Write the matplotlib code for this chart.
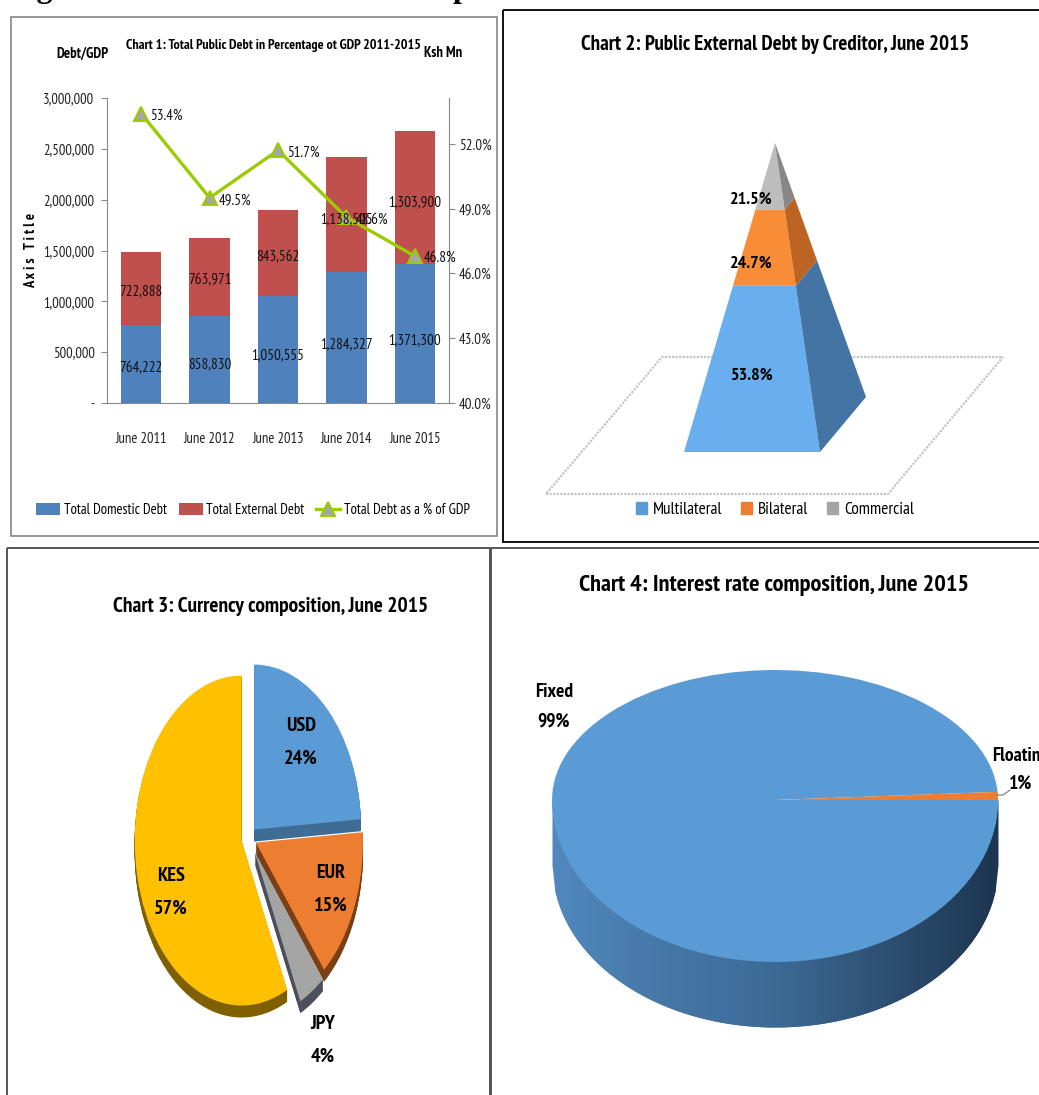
import numpy as np
import matplotlib
matplotlib.use("Agg")
import matplotlib.pyplot as plt
from matplotlib import font_manager as fm
from matplotlib.patches import Rectangle, Polygon, Patch
from matplotlib.colors import LinearSegmentedColormap
from matplotlib.ticker import FuncFormatter, FixedLocator

W, H = 1039, 1095
_have = {f.name for f in fm.fontManager.ttflist}
NARROW = [n for n in ['PT Sans Narrow', 'Fira Sans Condensed', 'Roboto Condensed', 'Lato', 'DejaVu Sans'] if n in _have]
plt.rcParams['font.family'] = NARROW

# ---- data ----
years = ['June 2011', 'June 2012', 'June 2013', 'June 2014', 'June 2015']
domestic = [764222, 858830, 1050555, 1284327, 1371300]
external = [722888, 763971, 843562, 1138505, 1303900]
debt_gdp = [53.4, 49.5, 51.7, 48.6, 46.8]
left_ticks = [0, 500000, 1000000, 1500000, 2000000, 2500000, 3000000]
right_ticks = [40, 43, 46, 49, 52]

creditors = ['Multilateral', 'Bilateral', 'Commercial']
creditor_share = [53.8, 24.7, 21.5]

currencies = ['USD', 'EUR', 'JPY', 'KES']
currency_share = [24, 15, 4, 57]
currency_explode = [0.07, 0.07, 0.10, 0.07]

rate_types = ['Fixed', 'Floating']
rate_share = [99, 1]

fig = plt.figure(figsize=(W / 100, H / 100), dpi=100, facecolor='white')


def px_axes(x0, y0, x1, y1, **kw):
    return fig.add_axes([x0 / W, 1 - y1 / H, (x1 - x0) / W, (y1 - y0) / H], **kw)


ov = fig.add_axes([0, 0, 1, 1], zorder=0)
ov.set_xlim(0, W); ov.set_ylim(H, 0); ov.axis('off')
top = fig.add_axes([0, 0, 1, 1], zorder=20)
top.set_xlim(0, W); top.set_ylim(H, 0); top.axis('off'); top.patch.set_alpha(0)


def label(x, y, s, size=13, weight='bold', ha='center', **kw):
    top.text(x, y, s, fontsize=size, fontweight=weight, ha=ha, va='center', color='black', **kw)


# ---- frames ----
ov.add_patch(Rectangle((10.5, 16.5), 486, 519, fc='none', ec='#858585', lw=1.2))
ov.add_patch(Rectangle((502.5, 9.5), 560, 532, fc='none', ec='#111111', lw=1.4))
ov.add_patch(Rectangle((6.5, 547.5), 483, 560, fc='none', ec='#555555', lw=1.4))
ov.add_patch(Rectangle((490.5, 547.5), 560, 560, fc='none', ec='#555555', lw=1.4))

# clipped page heading
top.text(8, -3, 'Figure 2: Total Public Debt Composition', family='Liberation Serif', fontsize=23,
         fontweight='bold', ha='left', va='baseline', color='black')

# ---- chart 1 ----
ax = px_axes(107, 98, 449, 403, zorder=5)
ax.patch.set_alpha(0)
x = np.arange(len(years))
blue_bars = ax.bar(x, domestic, width=0.59, color='#4F81BD', label='Total Domestic Debt')
red_bars = ax.bar(x, external, width=0.59, bottom=domestic, color='#C0504D', label='Total External Debt')
ax.set_xlim(-0.5, 4.5)
ax.set_ylim(0, 3000000)
ax.yaxis.set_major_locator(FixedLocator(left_ticks))
ax.yaxis.set_major_formatter(FuncFormatter(lambda v, p: '-' if v == 0 else f'{int(v):,}'))
ax.set_xticks(x)
ax.set_xticklabels(years)
ax.tick_params(axis='x', length=0, pad=21, labelsize=10.5, labelcolor='#222222')
ax.tick_params(axis='y', length=4, color='#888888', pad=5, labelsize=10.5, labelcolor='#222222')
for s in ['top', 'right']:
    ax.spines[s].set_visible(False)
for s in ['left', 'bottom']:
    ax.spines[s].set_color('#888888')
# value labels sit above the line, so they are drawn on the top layer in the bar axes' data scale
for xi, d, e in zip(x, domestic, external):
    top.text(xi, d * 0.45, f'{d:,}', transform=ax.transData, ha='center', va='center',
             fontsize=10.8, color='#111111')
    top.text(xi, d + e * 0.46, f'{e:,}', transform=ax.transData, ha='center', va='center',
             fontsize=10.8, color='#111111')

ax2 = ax.twinx()
ax2.patch.set_alpha(0)
ax2.set_ylim(40, 40 + 305 / 21.6)
line, = ax2.plot(x, debt_gdp, color='#9BCB00', lw=2.4, marker='^', ms=10, mfc='#A6A6A6',
                 mec='#9BCB00', mew=1.5, label='Total Debt as a % of GDP')
ax2.set_yticks(right_ticks)
ax2.yaxis.set_major_formatter(FuncFormatter(lambda v, p: f'{v:.1f}%'))
ax2.tick_params(axis='y', length=4, color='#888888', pad=3, labelsize=10.8, labelcolor='#222222')
for s in ['top', 'left', 'bottom']:
    ax2.spines[s].set_visible(False)
ax2.spines['right'].set_color('#888888')
for xi, v in zip(x, debt_gdp):
    ax2.annotate(f'{v:.1f}%', (xi, v), xytext=(6.5, -1.5), textcoords='offset points', ha='left',
                 va='center', fontsize=10.8, color='#111111')

label(31, 250, 'A x i s   T i t l e', size=10.5, rotation=90)
label(273, 45, 'Chart 1: Total Public Debt in Percentage ot GDP 2011-2015', size=10.1)
label(82, 54, 'Debt/GDP', size=10.5)
label(443, 53, 'Ksh Mn', size=10.5)

top.legend([blue_bars, red_bars, line],
           ['Total Domestic Debt', 'Total External Debt', 'Total Debt as a % of GDP'],
           loc='center', bbox_to_anchor=(253 / W, 1 - 510 / H), bbox_transform=fig.transFigure,
           ncol=3, frameon=False, fontsize=10.5, handlelength=1.65, handleheight=0.8,
           handletextpad=0.25, columnspacing=0.8)

# ---- chart 2: pyramid sized by cumulative shares ----
front_l = np.array([684.0, 452.0])
front_r = np.array([820.0, 452.0])
back_r = np.array([866.0, 397.0])
apex = np.array([775.0, 143.0])
ov.add_patch(Polygon([(546, 494), (888, 494), (1003, 357), (662, 357)], closed=True, fc='white',
                     ec='#c4c4c4', lw=1.6, ls=(0, (1, 0.6))))
front_cols = ['#69AEEE', '#F98C36', '#BDBDBD']
side_cols = ['#4374A3', '#BD6425', '#878787']
cum = np.concatenate([[0], np.cumsum(creditor_share)]) / np.sum(creditor_share)
along = lambda p, f: p + (apex - p) * f
for i in range(len(creditor_share)):
    a, b = cum[i], cum[i + 1]
    ov.add_patch(Polygon([along(front_l, a), along(front_r, a), along(front_r, b), along(front_l, b)],
                         closed=True, fc=front_cols[i], ec='none', zorder=3))
    ov.add_patch(Polygon([along(front_r, a), along(back_r, a), along(back_r, b), along(front_r, b)],
                         closed=True, fc=side_cols[i], ec='none', zorder=3))
for yy, v in zip([376, 264, 200], creditor_share):
    label(751, yy, f'{v:.1f}%', size=13)
label(775, 44, 'Chart 2: Public External Debt by Creditor, June 2015', size=15.1)
leg_handles = [Patch(color=c) for c in ['#5B9BD5', '#ED7D31', '#A5A5A5']]
fig.legend(leg_handles, creditors, loc='center', bbox_to_anchor=(775 / W, 1 - 510 / H), ncol=3,
           frameon=False, fontsize=12.4, handlelength=0.65, handleheight=0.65,
           handletextpad=0.35, columnspacing=1.05)

# ---- chart 3 ----
cx, cy, rx, ry = 249, 838, 107, 165
ax3 = px_axes(110, 640, 390, 1030, zorder=4)
ax3.patch.set_alpha(0)
dark3 = ['#3F6C95', '#7A3F14', '#4B505C', '#7F6000']
face3 = ['#5B9BD5', '#ED7D31', '#A5A5A5', '#FFC000']
for d in np.linspace(12, 1, 12) / ry:
    ax3.pie(currency_share, explode=currency_explode, colors=dark3, startangle=90, counterclock=False,
            center=(0, -d), radius=1)
ax3.pie(currency_share, explode=currency_explode, colors=face3, startangle=90, counterclock=False,
        center=(0, 0), radius=1)
ax3.set_aspect('auto')
ax3.set_xlim((110 - cx) / rx, (390 - cx) / rx)
ax3.set_ylim((cy - 1030) / ry, (cy - 640) / ry)
ax3.axis('off')
for (lx, ly), n, v in zip([(301, 726), (331, 873), (323, 1024), (171, 876)], currencies, currency_share):
    label(lx, ly, n, size=14.5)
    label(lx, ly + 33, f'{v}%', size=14.5)
label(271, 606, 'Chart 3: Currency composition, June 2015', size=15.4)

# ---- chart 4 ----
cx4, cy4, rx4 = 775, 800, 223
r_up, r_down = 130.0, 162.0
depth = 65.0 / r_down
ax4 = px_axes(540, 650, 1010, 1045, zorder=4)
ax4.patch.set_alpha(0)
ax4.set_yscale('function', functions=(
    lambda y: np.where(y > 0, y * r_up, y * r_down),
    lambda u: np.where(u > 0, u / r_up, u / r_down)))
wall = LinearSegmentedColormap.from_list('wall', ['#5088BE', '#4577A6', '#3C6A96', '#2D4F72', '#1C3550'])
edges = np.linspace(-1, 1, 161)
for i in range(len(edges) - 2):
    xs = edges[i:i + 3]
    low = -np.sqrt(np.clip(1 - xs ** 2, 0, 1))
    c = wall((i + 0.5) / (len(edges) - 1))
    ax4.fill_between(xs, low + 0.02, low - depth, color=c, lw=0)
ax4.pie(rate_share, colors=['#5B9BD5', '#ED7D31'], startangle=3.6, counterclock=True, radius=1)
ax4.set_aspect('auto')
ax4.set_xlim((540 - cx4) / rx4, (1010 - cx4) / rx4)
ax4.set_ylim((cy4 - 1045) / r_down, (cy4 - 650) / r_up)
ax4.axis('off')
label(554, 692, rate_types[0], size=14)
label(554, 722, f'{rate_share[0]}%', size=14)
label(992, 756, rate_types[1], size=14, ha='left')
label(1021, 784, f'{rate_share[1]}%', size=14)
top.plot([997, 1003, 1010], [795, 795, 790], color='#777777', lw=0.8)
label(774, 586, 'Chart 4: Interest rate composition, June 2015', size=17.5)

fig.savefig('out.png', dpi=100)
